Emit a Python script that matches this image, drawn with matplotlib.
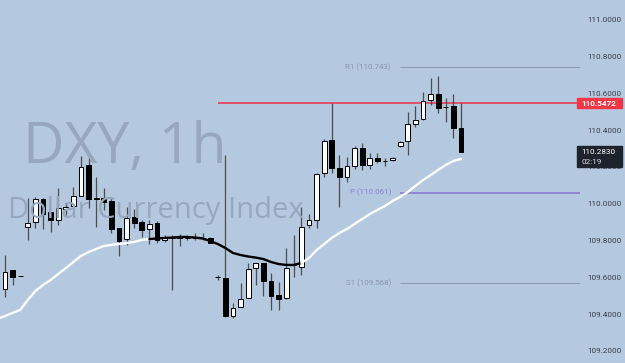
import matplotlib
matplotlib.use("Agg")
import matplotlib.pyplot as plt
from matplotlib.patches import Rectangle
import numpy as np

plt.rcParams["font.family"] = ["Roboto", "DejaVu Sans"]

# ----- DXY 1h candles (oldest -> newest) -----
opens = [109.534, 109.640, 109.606, 109.872, 109.901, 110.028, 109.953, 109.910, 109.973, 109.988,
         110.044, 110.211, 110.031, 110.030, 110.017, 109.868, 109.807, 109.926, 109.902, 109.861,
         109.893, 109.803, 109.816, 109.817, 109.815, 109.814, 109.813, 109.812, 109.600, 109.598,
         109.391, 109.440, 109.489, 109.649, 109.679, 109.580, 109.503, 109.485, 109.667, 109.657,
         109.883, 109.912, 110.166, 110.347, 110.196, 110.147, 110.207, 110.306, 110.211, 110.249,
         110.235, 110.237, 110.314, 110.340, 110.434, 110.460, 110.565, 110.597, 110.528, 110.534,
         110.414]
highs = [109.721, 109.642, 109.609, 110.031, 110.037, 110.031, 109.955, 110.086, 110.004, 110.090,
         110.260, 110.269, 110.147, 110.084, 110.035, 109.870, 109.981, 109.970, 109.912, 109.912,
         109.906, 109.830, 109.830, 109.835, 109.830, 109.839, 109.839, 109.819, 109.612, 110.265,
         109.462, 109.567, 109.676, 109.678, 109.680, 109.622, 109.576, 109.758, 109.830, 109.984,
         109.944, 110.165, 110.351, 110.547, 110.265, 110.256, 110.314, 110.331, 110.277, 110.274,
         110.249, 110.254, 110.340, 110.501, 110.534, 110.607, 110.683, 110.695, 110.577, 110.596,
         110.547]
lows = [109.494, 109.558, 109.605, 109.803, 109.868, 109.863, 109.848, 109.884, 109.939, 109.987,
        110.042, 109.975, 109.872, 109.966, 109.839, 109.716, 109.776, 109.866, 109.821, 109.779,
        109.786, 109.793, 109.531, 109.770, 109.803, 109.803, 109.803, 109.784, 109.585, 109.386,
        109.376, 109.438, 109.487, 109.558, 109.500, 109.422, 109.422, 109.484, 109.603, 109.612,
        109.866, 109.866, 110.147, 110.166, 109.981, 110.120, 110.189, 110.184, 110.188, 110.220,
        110.205, 110.233, 110.307, 110.265, 110.419, 110.456, 110.536, 110.492, 110.447, 110.356,
        110.283]
closes = [109.630, 109.603, 109.607, 109.894, 110.024, 109.946, 109.910, 109.975, 109.984, 110.042,
          110.202, 110.024, 110.026, 110.011, 109.863, 109.799, 109.924, 109.897, 109.857, 109.890,
          109.800, 109.817, 109.814, 109.815, 109.816, 109.813, 109.813, 109.788, 109.599, 109.391,
          109.431, 109.482, 109.645, 109.676, 109.581, 109.500, 109.482, 109.652, 109.665, 109.875,
          109.912, 110.162, 110.342, 110.193, 110.144, 110.205, 110.302, 110.211, 110.247, 110.230,
          110.234, 110.251, 110.338, 110.434, 110.454, 110.558, 110.597, 110.523, 110.524, 110.411,
          110.283]

# moving average, starts one bar before the first candle
ma_vals = [109.373, 109.389, 109.406, 109.422, 109.476, 109.525, 109.558, 109.585, 109.618, 109.650,
           109.683, 109.716, 109.737, 109.754, 109.770, 109.776, 109.781, 109.786, 109.792, 109.803,
           109.808, 109.811, 109.814, 109.816, 109.819, 109.819, 109.816, 109.811, 109.797, 109.781,
           109.759, 109.732, 109.721, 109.713, 109.707, 109.699, 109.683, 109.672, 109.667, 109.667,
           109.678, 109.705, 109.748, 109.781, 109.814, 109.841, 109.863, 109.890, 109.917, 109.944,
           109.966, 109.988, 110.015, 110.037, 110.064, 110.097, 110.129, 110.156, 110.184, 110.211,
           110.233, 110.244]
ma_black_from, ma_black_to = 19, 39   # bars where the MA turns black

pivot_names = ["R1", "P", "S1"]
pivot_levels = [110.743, 110.061, 109.568]
pivot_colors = ["#8a98ad", "#8e7fd6", "#8a98ad"]

resist_level = 110.5472
resist_start = 28
last_price = 110.2830
countdown = "02:19"
price_ticks = [109.2, 109.4, 109.6, 109.8, 110.0, 110.2, 110.4, 110.6, 110.8, 111.0]

BG = "#b4c8e0"
W, H = 625, 363

fig = plt.figure(figsize=(W / 100, H / 100), dpi=100)
fig.patch.set_facecolor(BG)
ax = fig.add_axes([0, 0, 580 / W, 1])
ax.set_facecolor(BG)

# watermark
fig.text(23 / W, 1 - 163 / H, "DXY, 1h", fontsize=41, color="#97a8be",
         family="Open Sans", va="baseline", ha="left", zorder=0)
fig.text(8 / W, 1 - 218 / H, "Dollar Currency Index", fontsize=21, color="#97a8be",
         family="Open Sans", va="baseline", ha="left", zorder=0)

x = np.arange(len(opens))
o = np.array(opens); c = np.array(closes)
up = c > o

# candles
ax.vlines(x, lows, highs, color="#4d4d4d", lw=0.9, zorder=2)
ax.bar(x, np.abs(c - o), bottom=np.minimum(o, c), width=0.62,
       color=np.where(up, "white", "black"), edgecolor="black", lw=0.7, zorder=3)

# moving average, white / black segments
ma_x = np.arange(-1, len(opens))
ma = np.array(ma_vals)
seg1 = ma_x <= ma_black_from
seg2 = (ma_x >= ma_black_from) & (ma_x <= ma_black_to)
seg3 = ma_x >= ma_black_to
ax.plot(ma_x[seg1], ma[seg1], color="white", lw=1.7, zorder=4, solid_capstyle="round")
ax.plot(ma_x[seg2], ma[seg2], color="black", lw=1.7, zorder=4, solid_capstyle="round")
ax.plot(ma_x[seg3], ma[seg3], color="white", lw=1.7, zorder=4, solid_capstyle="round")

xmin, xmax = -5 / 7.6, 575 / 7.6
ax.set_xlim(xmin, xmax)
ax.set_ylim(111.1088 - H * 0.005442, 111.1088)

# pivots
pstart = (400 - 5) / 7.6
for name, lvl, col in zip(pivot_names, pivot_levels, pivot_colors):
    ax.hlines(lvl, pstart, xmax, color=col, lw=1.3 if name == "P" else 0.7, zorder=1)
    ax.text(pstart - 1.2, lvl, f"{name} ({lvl:.3f})", color=col, fontsize=5.7,
            ha="right", va="center", zorder=1)

# resistance line
ax.hlines(resist_level, resist_start, xmax, color="#ee2f48", lw=1.1, zorder=1, snap=True)

# price scale
ax.yaxis.tick_right()
ax.set_yticks(price_ticks)
ax.set_yticklabels([f"{t:.4f}" for t in price_ticks])
ax.tick_params(axis="y", length=0, pad=5, labelsize=5.9, labelcolor="#3c3f48")
ax.set_xticks([])
for s in ax.spines.values():
    s.set_visible(False)

ytr = ax.get_yaxis_transform()
ax.add_patch(Rectangle((577 / 580, resist_level - 0.026), 45 / 580, 0.052, transform=ytr,
                       color="#f23645", clip_on=False, zorder=6))
ax.text(581 / 580, resist_level, f"{resist_level:.4f}", transform=ytr, color="white",
        fontsize=5.9, fontweight="bold", va="center", ha="left", clip_on=False, zorder=7)
ax.add_patch(Rectangle((577 / 580, last_price - 0.084), 45 / 580, 0.114, transform=ytr,
                       color="#1e222d", clip_on=False, zorder=6))
ax.text(581 / 580, last_price, f"{last_price:.4f}", transform=ytr, color="white",
        fontsize=5.9, va="center", ha="left", clip_on=False, zorder=7)
ax.text(581 / 580, last_price - 0.055, countdown, transform=ytr, color="#d8dbe3",
        fontsize=5.9, va="center", ha="left", clip_on=False, zorder=7)

fig.savefig("out.png", dpi=100, facecolor=BG)
